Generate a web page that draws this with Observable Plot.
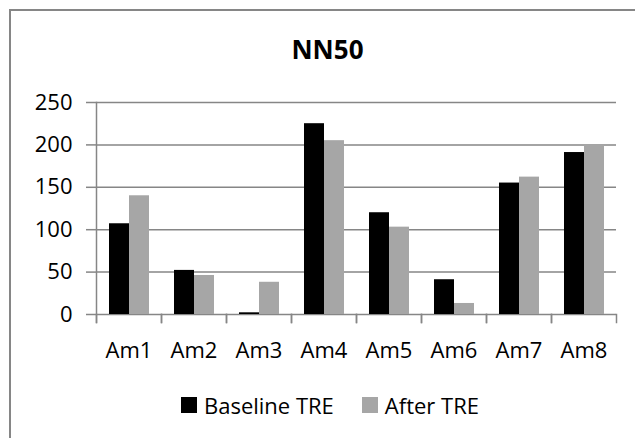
<!DOCTYPE html>
<html>
<head>
<meta charset="utf-8">
<script src="https://cdn.jsdelivr.net/npm/d3@7"></script>
<script src="https://cdn.jsdelivr.net/npm/@observablehq/plot@0.6"></script>
<style>
  html, body { margin: 0; padding: 0; background: #fff; overflow: hidden; width: 635px; height: 438px; }
  #wrap { position: relative; width: 635px; height: 438px; overflow: hidden; font-family: "Open Sans", sans-serif; color: #000; background: #fff; }
  #bTop { position: absolute; left: 9px; top: 9px; width: 626px; height: 2px; background: #868686; z-index: 3; }
  #bLeft { position: absolute; left: 9px; top: 9px; width: 2px; height: 429px; background: #868686; z-index: 3; }
  #cover { position: absolute; left: 624px; top: 11px; width: 11px; height: 427px; background: #fff; z-index: 2; }
  #title { position: relative; height: 80px; box-sizing: border-box; padding-top: 36px; width: 635px; margin-left: 10px; text-align: center; font-weight: bold; font-size: 26px; line-height: 26px; }
  #chart { position: relative; height: 300px; width: 635px; overflow: hidden; }
  #chart svg { display: block; }
  #legend { position: relative; height: 58px; display: flex; justify-content: center; align-items: flex-start; padding-top: 13px; box-sizing: border-box; width: 600px; margin-left: 30px; font-size: 22px; line-height: 24px; }
  .item { display: flex; align-items: center; margin: 0 14px; }
  .sw { width: 16px; height: 16px; margin-right: 7px; }
</style>
</head>
<body>
<div id="wrap">
  <div id="bTop"></div>
  <div id="bLeft"></div>
  <div id="cover"></div>
  <div id="title">NN50</div>
  <div id="chart"></div>
  <div id="legend"></div>
</div>
<script>
const categories = ["Am1", "Am2", "Am3", "Am4", "Am5", "Am6", "Am7", "Am8"];
const baselineTRE = [107, 52, 2, 225, 120, 41, 155, 191];
const afterTRE = [140, 46, 38, 205, 103, 13, 162, 200];
const seriesNames = ["Baseline TRE", "After TRE"];
const seriesColors = ["#000000", "#a6a6a6"];
const yTicks = [0, 50, 100, 150, 200, 250];

const data = [];
categories.forEach((c, i) => {
  data.push({cat: c, series: seriesNames[0], value: baselineTRE[i]});
  data.push({cat: c, series: seriesNames[1], value: afterTRE[i]});
});

const axisGray = "#868686";

const chart = Plot.plot({
  width: 635,
  height: 300,
  marginLeft: 95,
  marginRight: 19,
  marginTop: 22,
  marginBottom: 66,
  style: {fontFamily: "Open Sans, sans-serif", fontSize: "22px", color: "#000", background: "transparent"},
  fx: {domain: categories, paddingInner: 0, paddingOuter: 0, label: null},
  x: {domain: seriesNames, paddingInner: 0, paddingOuter: 0.625, axis: null},
  y: {domain: [0, 250], axis: null},
  color: {domain: seriesNames, range: seriesColors},
  marks: [
    Plot.ruleY(yTicks, {stroke: axisGray, strokeWidth: 1.5}),
    Plot.barY(data, {fx: "cat", x: "series", y: "value", fill: "series"}),
    Plot.axisY({ticks: yTicks, tickSize: 10, tickPadding: 14, stroke: axisGray, strokeWidth: 1.5, fontSize: 22, label: null}),
    Plot.axisFx({anchor: "bottom", tickSize: 0, tickPadding: 28, fontSize: 22, label: null}),
    Plot.frame({anchor: "left", insetTop: 212, insetBottom: -8, stroke: axisGray, strokeWidth: 1.5}),
    Plot.frame({anchor: "right", insetTop: 212, insetBottom: -8, stroke: axisGray, strokeWidth: 1.5}),
    Plot.frame({facet: "super", anchor: "left", insetBottom: -8, stroke: axisGray, strokeWidth: 1.5})
  ]
});
document.getElementById("chart").appendChild(chart);

const legend = document.getElementById("legend");
seriesNames.forEach((name, i) => {
  const item = document.createElement("div");
  item.className = "item";
  const sw = document.createElement("span");
  sw.className = "sw";
  sw.style.background = seriesColors[i];
  const label = document.createElement("span");
  label.textContent = name;
  item.appendChild(sw);
  item.appendChild(label);
  legend.appendChild(item);
});
</script>
</body>
</html>
